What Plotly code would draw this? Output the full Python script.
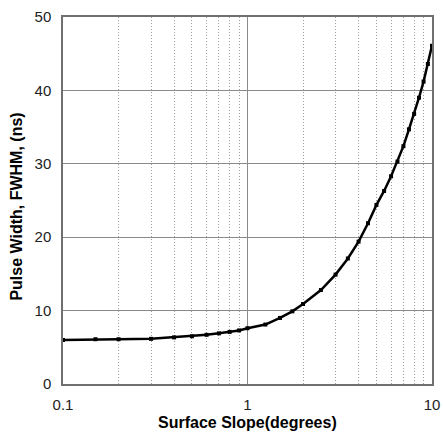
import plotly.graph_objects as go

# surface slope (degrees) and pulse width FWHM (ns)
slope_deg = [0.1, 0.15, 0.2, 0.3, 0.4, 0.5, 0.6, 0.7, 0.8, 0.9, 1.0,
             1.25, 1.5, 1.75, 2.0, 2.5, 3.0, 3.5, 4.0, 4.5, 5.0,
             5.5, 6.0, 6.5, 7.0, 7.5, 8.0, 8.5, 9.0, 9.5, 10.0]
pulse_ns = [6.0, 6.1, 6.1, 6.15, 6.35, 6.5, 6.7, 6.9, 7.1, 7.3, 7.6,
            8.1, 9.0, 9.9, 10.9, 12.8, 14.9, 17.1, 19.4, 21.9, 24.4,
            26.3, 28.3, 30.3, 32.4, 34.7, 36.8, 39.0, 41.2, 43.6, 46.1]

x_ticks = [0.1, 1, 10]
x_tick_text = ['0.1', '1', '10']
x_minor = [0.2, 0.3, 0.4, 0.5, 0.6, 0.7, 0.8, 0.9, 2, 3, 4, 5, 6, 7, 8, 9]
y_ticks = [0, 10, 20, 30, 40, 50]

tick_font = dict(family='Liberation Sans, Arial', size=15, color='#222')
title_font = dict(family='Liberation Sans, Arial', size=16, color='black')

fig = go.Figure()
fig.add_trace(go.Scatter(x=slope_deg, y=pulse_ns, mode='lines+markers',
                         line=dict(color='black', width=2.5),
                         marker=dict(symbol='square', size=4, color='black'),
                         showlegend=False))

fig.update_xaxes(type='log', range=[-1, 1], automargin=False,
                 tickvals=x_ticks, ticktext=x_tick_text,
                 showgrid=True, gridcolor='#8a8a8a', gridwidth=1,
                 minor=dict(tickvals=x_minor, showgrid=True, gridcolor='#a0a0a0',
                            griddash='1px,2px', gridwidth=1, ticks=''),
                 showline=True, linecolor='#707070', linewidth=1.5, mirror=True,
                 ticks='outside', ticklen=6, tickcolor='rgba(0,0,0,0)',
                 zeroline=False, tickfont=tick_font)

fig.update_yaxes(range=[0, 50], tickvals=y_ticks, automargin=False,
                 showgrid=True, gridcolor='#8a8a8a', gridwidth=1,
                 showline=True, linecolor='#707070', linewidth=1.5, mirror=True,
                 ticks='outside', ticklen=7, tickcolor='rgba(0,0,0,0)',
                 zeroline=False, tickfont=tick_font)

# axis titles as annotations so they sit where the original has them
fig.add_annotation(text='<b>Surface Slope(degrees)</b>', xref='paper', yref='paper',
                   x=0.5, y=-0.105, xanchor='center', yanchor='middle',
                   showarrow=False, font=title_font)
fig.add_annotation(text='<b>Pulse Width, FWHM, (ns)</b>', xref='paper', yref='paper',
                   x=-0.125, y=0.483, xanchor='center', yanchor='middle',
                   textangle=-90, showarrow=False, font=title_font)

fig.update_layout(width=443, height=434,
                  margin=dict(l=63, r=11, t=17, b=50),
                  plot_bgcolor='white', paper_bgcolor='white')

# drop the page's default body margin so the figure sits at the window's corner
fig.write_html("out.html", config={'displayModeBar': False},
               post_script="document.body.style.margin='0';")
